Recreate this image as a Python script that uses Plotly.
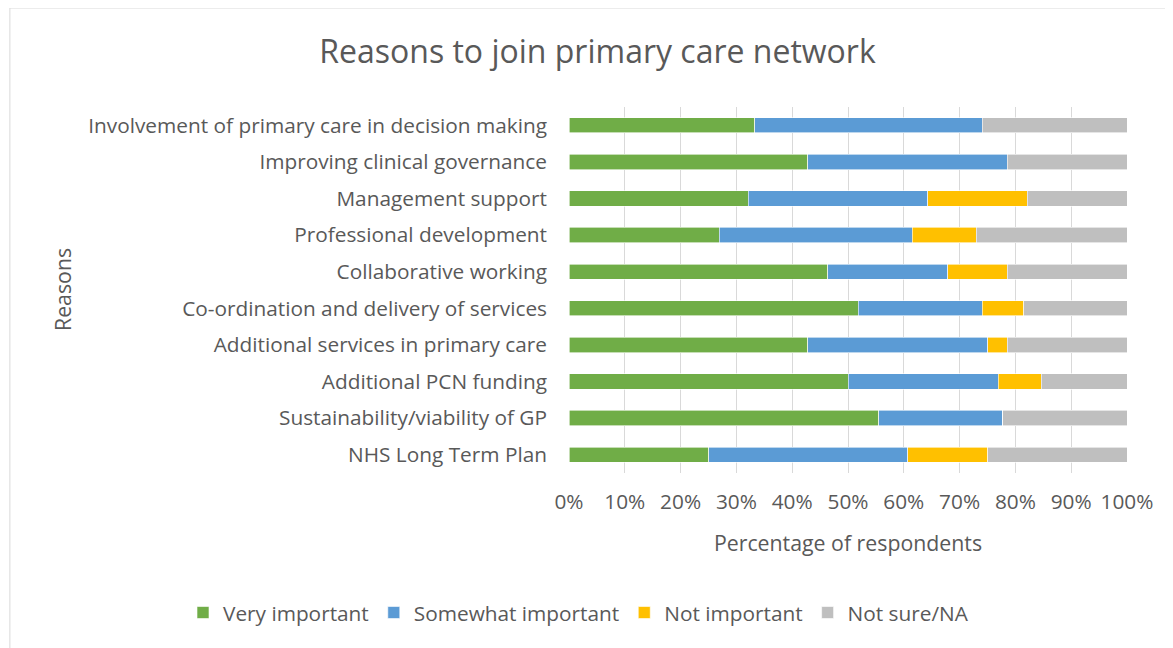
import plotly.graph_objects as go

categories = [
    "Involvement of primary care in decision making",
    "Improving clinical governance",
    "Management support",
    "Professional development",
    "Collaborative working",
    "Co-ordination and delivery of services",
    "Additional services in primary care",
    "Additional PCN funding",
    "Sustainability/viability of GP",
    "NHS Long Term Plan",
]
very_important = [33.3, 42.8, 32.1, 26.9, 46.4, 51.8, 42.8, 50.0, 55.5, 25.0]
somewhat_important = [40.8, 35.7, 32.2, 34.6, 21.5, 22.3, 32.2, 26.9, 22.2, 35.7]
not_important = [0.0, 0.0, 17.8, 11.5, 10.6, 7.4, 3.5, 7.7, 0.0, 14.3]
not_sure = [25.9, 21.5, 17.9, 27.0, 21.5, 18.5, 21.5, 15.4, 22.3, 25.0]

series = [
    ("Very important", very_important, "#70AD47"),
    ("Somewhat important", somewhat_important, "#5B9BD5"),
    ("Not important", not_important, "#FFC000"),
    ("Not sure/NA", not_sure, "#BFBFBF"),
]

FONT = "Open Sans"
TXT = "#595959"
FS = 20.8

fig = go.Figure()
for name, vals, col in series:
    fig.add_trace(go.Bar(
        y=categories, x=vals, name=name, orientation="h",
        marker=dict(color=col, line=dict(color="white", width=0.6)),
    ))

fig.update_layout(
    barmode="stack",
    bargap=0.58,
    width=1165, height=640,
    paper_bgcolor="white", plot_bgcolor="white",
    margin=dict(l=561, r=46, t=99, b=175, autoexpand=False),
    font=dict(family=FONT, size=FS, color=TXT),
    title=dict(text="Reasons to join primary care network", x=(597.5 - 8) / 1165,
               xanchor="center", y=1 - 44 / 640, yanchor="middle",
               font=dict(family=FONT, size=32, color=TXT)),
    xaxis=dict(range=[0, 100], dtick=10, ticksuffix="%", showgrid=True,
               gridcolor="#D9D9D9", gridwidth=1.3, zeroline=False, tickangle=0,
               tickfont=dict(size=FS, color=TXT), ticks="", ticklabelstandoff=14,
               title=dict(text="Percentage of respondents", standoff=22,
                          font=dict(size=FS + 0.5, color=TXT))),
    yaxis=dict(autorange="reversed", showgrid=False, ticks="",
               tickfont=dict(size=FS, color=TXT), ticklabelstandoff=21),
    legend=dict(orientation="h", x=(183 - 569) / 558, xanchor="left",
                y=(465 - 605) / 366, yanchor="middle",
                font=dict(size=FS, color=TXT), traceorder="normal",
                itemwidth=30),
    annotations=[dict(text="Reasons", xref="paper", yref="paper",
                      x=(62 - 569) / 558, y=0.5, xanchor="center", yanchor="middle",
                      textangle=-90, showarrow=False,
                      font=dict(size=FS + 0.5, color=TXT))],
    shapes=[dict(type="rect", xref="paper", yref="paper",
                 x0=-1.002, x1=1.2, y0=-0.6, y1=1 + 99 / 366,
                 line=dict(color="#D9D9D9", width=1), layer="below")],
)
fig.write_html("out.html")
